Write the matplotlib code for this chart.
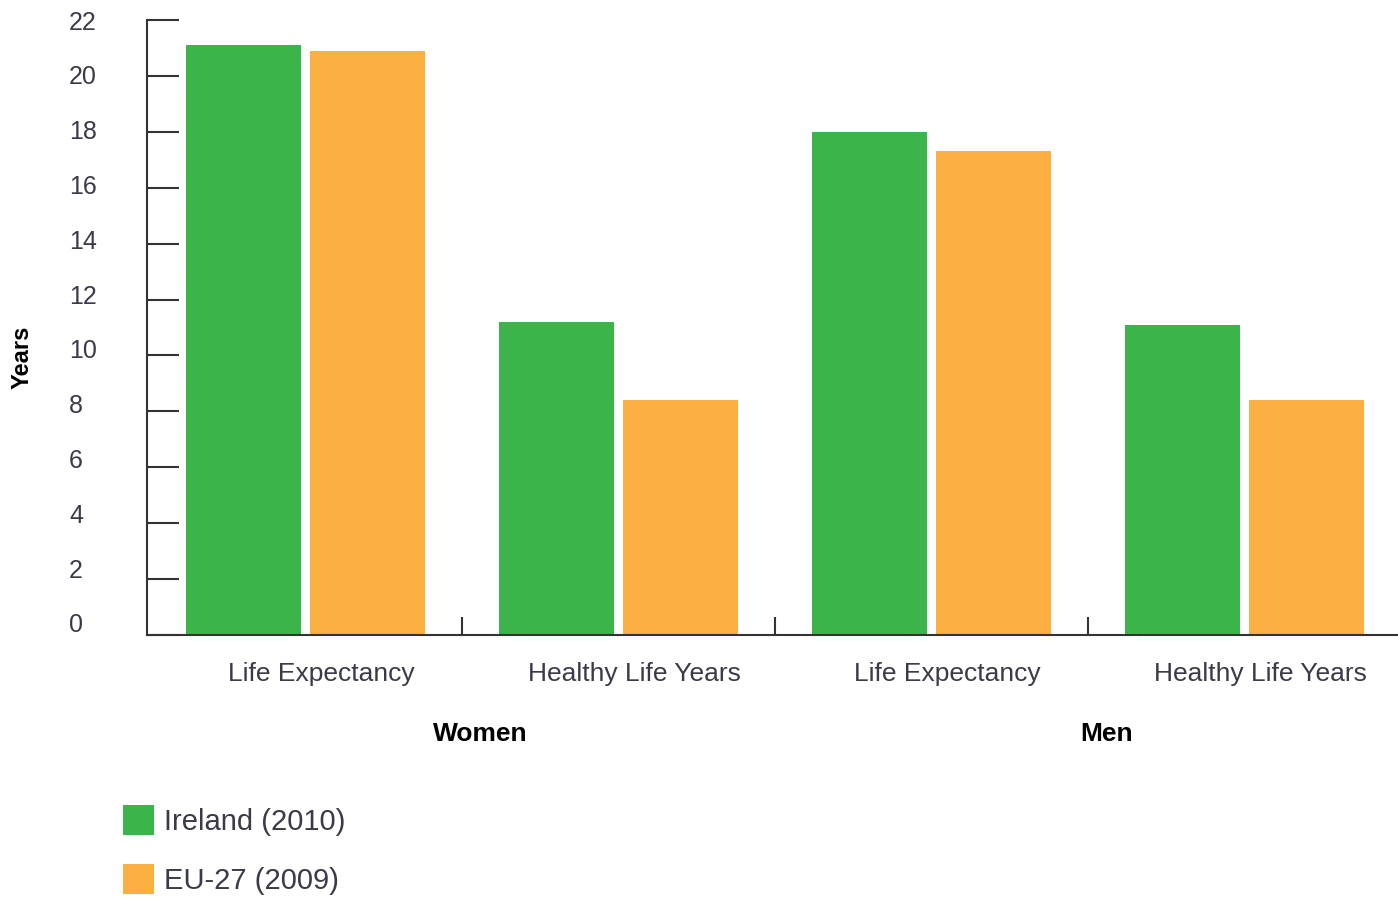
import matplotlib
matplotlib.use('Agg')
import matplotlib.pyplot as plt
import matplotlib.transforms as mtransforms
from matplotlib.patches import Patch
import numpy as np

# datos
categorias = ['Life Expectancy', 'Healthy Life Years', 'Life Expectancy', 'Healthy Life Years']
grupos = ['Women', 'Men']
ireland = [21.1, 11.2, 18.0, 11.1]
eu27 = [20.9, 8.4, 17.3, 8.4]
series = ['Ireland (2010)', 'EU-27 (2009)']
yticks = [0, 2, 4, 6, 8, 10, 12, 14, 16, 18, 20, 22]

verde = '#3BB44A'
naranja = '#FBAF41'
gris = '#333333'

plt.rcParams['font.family'] = ['Liberation Sans', 'DejaVu Sans']

fig = plt.figure(figsize=(13.98, 8.98), dpi=100)
ax = fig.add_axes([147 / 1398, 1 - 635 / 898, 1 - 147 / 1398, (635 - 20) / 898])

x = np.arange(len(categorias))
ancho = 0.368
ax.bar(x - 0.198, ireland, ancho, color=verde)
ax.bar(x + 0.198, eu27, ancho, color=naranja)

ax.set_xlim(-0.506, 3.49)
ax.set_ylim(0, 22)

for s in ['top', 'right']:
    ax.spines[s].set_visible(False)
ax.spines['left'].set_color(gris)
ax.spines['bottom'].set_color(gris)
ax.spines['left'].set_linewidth(1.5)
ax.spines['bottom'].set_linewidth(1.5)

# eje y
ax.set_yticks(yticks)
ax.tick_params(axis='y', direction='in', length=23, width=1.5, color=gris,
               pad=56, labelsize=18, labelcolor='#3a3a48')
for t, v in zip(ax.get_yticklabels(), yticks):
    t.set_horizontalalignment('left')
    # las etiquetas bajas quedan un poco por encima de su marca
    desp = mtransforms.ScaledTranslation(0, 12 * (1 - v / 22) / 100, fig.dpi_scale_trans)
    t.set_transform(t.get_transform() + desp)

# separadores en el eje x
ax.set_xticks([0.5, 1.5, 2.5])
ax.set_xticklabels([])
ax.tick_params(axis='x', direction='in', length=13, width=1.5, color=gris)

trans = mtransforms.blended_transform_factory(ax.transData, ax.transAxes)
for i, c in enumerate(categorias):
    ax.text(i + 0.05, -0.0634, c, transform=trans, ha='center', va='center',
            fontsize=19, color='#3a3a48')
for i, g in enumerate(grupos):
    ax.text(0.56 + 2 * i, -0.161, g, transform=trans, ha='center', va='center',
            fontsize=19, fontweight='bold', color='black')

fig.text(22 / 1398, 1 - 357 / 898, 'Years', rotation=90, ha='center', va='center',
         fontsize=17, fontweight='bold', color='black')

handles = [Patch(facecolor=verde), Patch(facecolor=naranja)]
leg = fig.legend(handles, series, loc='upper left',
                 bbox_to_anchor=(123 / 1398, 1 - 805 / 898), frameon=False,
                 fontsize=21, handlelength=1.06, handleheight=1.22,
                 handletextpad=0.34, labelspacing=0.95, borderpad=0, borderaxespad=0)
for t in leg.get_texts():
    t.set_color('#3a3a48')

fig.savefig('out.png', dpi=100)
